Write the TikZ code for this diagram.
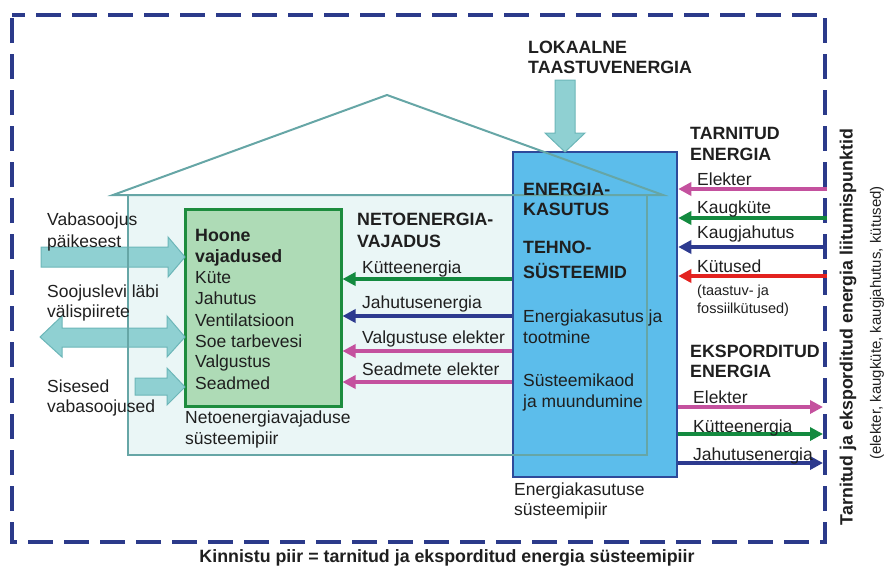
\documentclass[tikz,border=0pt]{standalone}
\usepackage{fontspec}
\setmainfont{Liberation Sans}
\usetikzlibrary{arrows.meta}

\definecolor{framecol}{HTML}{2B3A8A}
\definecolor{housefill}{HTML}{EAF6F6}
\definecolor{houseline}{HTML}{66A6A6}
\definecolor{greenfill}{HTML}{AEDBB6}
\definecolor{greenline}{HTML}{1D8C3E}
\definecolor{bluefill}{HTML}{5CBDEB}
\definecolor{blueline}{HTML}{2E4A9A}
\definecolor{blockfill}{HTML}{8FD0D2}
\definecolor{blockline}{HTML}{6CB6B8}
\definecolor{flowmag}{HTML}{C4519E}
\definecolor{flowgreen}{HTML}{138A3F}
\definecolor{flownavy}{HTML}{2D3A8F}
\definecolor{flowred}{HTML}{E3221F}
\definecolor{txt}{HTML}{1F1F1F}

\tikzset{
  lbl/.style={font=\fontsize{17.5}{20}\selectfont, text=txt, inner sep=0pt, anchor=base west},
  hd/.style={font=\fontsize{17.8}{20}\selectfont\bfseries, text=txt, inner sep=0pt, anchor=base west},
  sm/.style={font=\fontsize{14.5}{18}\selectfont, text=txt, inner sep=0pt, anchor=base west},
  flow/.style={line width=4.2pt, -{Triangle[length=13pt,width=13pt]}},
  blockarrow/.style={fill=blockfill, draw=blockline, line width=1pt, line join=miter},
}

\begin{document}
\begin{tikzpicture}[x=1pt,y=-1pt]
\useasboundingbox (0,0) rectangle (886,566);

% property boundary
\draw[framecol, line width=4pt, dash pattern=on 25pt off 11pt, dash phase=12pt]
  (12,15) -- (825,15) -- (825,542) -- (12,542) -- cycle;

% building body fill
\fill[housefill] (128,195) rectangle (647,455);

% energy use system box
\node[draw=blueline, fill=bluefill, line width=2.5pt, minimum width=164pt, minimum height=325pt, inner sep=0pt]
  (eb) at (595,314.5) {};

% net energy need box
\node[draw=greenline, fill=greenfill, line width=3pt, minimum width=156pt, minimum height=197pt, inner sep=0pt]
  (gb) at (263,307.5) {};

% block arrows on the left
\draw[blockarrow] (41,247) -- (168,247) -- (168,237) -- (185,257) -- (168,277) -- (168,267) -- (41,267) -- cycle;
\draw[blockarrow] (40,337) -- (62,316) -- (62,328) -- (167,328) -- (167,316) -- (185,337)
  -- (167,357) -- (167,347) -- (62,347) -- (62,357) -- cycle;
\draw[blockarrow] (135,378) -- (167,378) -- (167,368) -- (185,387) -- (167,405) -- (167,395) -- (135,395) -- cycle;

% local renewable energy arrow
\draw[blockarrow] (555,80) -- (575,80) -- (575,133) -- (585,133) -- (565,152) -- (545,133) -- (555,133) -- cycle;

% building outline
\draw[houseline, line width=2pt, line join=miter] (113,195) -- (387,95) -- (663,195) -- cycle;
\draw[houseline, line width=2pt] (128,195) -- (128,455) -- (647,455) -- (647,195);

% flows from the energy use box to the building needs
\coordinate (n1) at (eb.west |- 0,279);
\coordinate (n2) at (eb.west |- 0,316);
\coordinate (n3) at (eb.west |- 0,351);
\coordinate (n4) at (eb.west |- 0,382);
\draw[flow, flowgreen] (n1) -- (n1 -| gb.east);
\draw[flow, flownavy] (n2) -- (n2 -| gb.east);
\draw[flow, flowmag] (n3) -- (n3 -| gb.east);
\draw[flow, flowmag] (n4) -- (n4 -| gb.east);

% delivered energy
\coordinate (d1) at (827,189);
\coordinate (d2) at (827,218);
\coordinate (d3) at (827,247);
\coordinate (d4) at (827,276);
\draw[flow, flowmag] (d1) -- (d1 -| eb.east);
\draw[flow, flowgreen] (d2) -- (d2 -| eb.east);
\draw[flow, flownavy] (d3) -- (d3 -| eb.east);
\draw[flow, flowred] (d4) -- (d4 -| eb.east);

% exported energy
\coordinate (e1) at (823,407);
\coordinate (e2) at (823,434);
\coordinate (e3) at (823,463);
\draw[flow, flowmag] (e1 -| eb.east) -- (e1);
\draw[flow, flowgreen] (e2 -| eb.east) -- (e2);
\draw[flow, flownavy] (e3 -| eb.east) -- (e3);

% left side texts
\node[lbl] (l1) at (47,225) {Vabasoojus};
\node[lbl] (l2) at (47,247) {päikesest};
\node[lbl] (l3) at (47,297) {Soojuslevi läbi};
\node[lbl] (l4) at (47,317) {välispiirete};
\node[lbl] (l5) at (47,392) {Sisesed};
\node[lbl] (l6) at (47,412) {vabasoojused};

% needs box texts
\node[hd] (g1) at (195,241) {Hoone};
\node[hd] (g2) at (195,262) {vajadused};
\node[lbl] (g3) at (195,283) {Küte};
\node[lbl] (g4) at (195,304) {Jahutus};
\node[lbl] (g5) at (195,326) {Ventilatsioon};
\node[lbl] (g6) at (195,347) {Soe tarbevesi};
\node[lbl] (g7) at (195,367) {Valgustus};
\node[lbl] (g8) at (195,389) {Seadmed};
\node[lbl] (g9) at (185,423) {Netoenergiavajaduse};
\node[lbl] (g10) at (185,444) {süsteemipiir};

% net energy need labels
\node[hd] (ne1) at (357,225) {NETOENERGIA-};
\node[hd] (ne2) at (357,247) {VAJADUS};
\node[lbl] (ne3) at (362,273) {Kütteenergia};
\node[lbl] (ne4) at (362,308) {Jahutusenergia};
\node[lbl] (ne5) at (362,343) {Valgustuse elekter};
\node[lbl] (ne6) at (362,375) {Seadmete elekter};

% energy use box texts
\node[hd] (b1) at (523,195) {ENERGIA-};
\node[hd] (b2) at (523,215) {KASUTUS};
\node[hd] (b3) at (523,253) {TEHNO-};
\node[hd] (b4) at (523,278) {SÜSTEEMID};
\node[lbl] (b5) at (523,322) {Energiakasutus ja};
\node[lbl] (b6) at (523,343) {tootmine};
\node[lbl] (b7) at (523,386) {Süsteemikaod};
\node[lbl] (b8) at (523,407) {ja muundumine};
\node[lbl] (b9) at (514,495) {Energiakasutuse};
\node[lbl] (b10) at (514,515) {süsteemipiir};

% local renewable energy
\node[hd] (r1) at (528,53) {LOKAALNE};
\node[hd] (r2) at (528,73) {TAASTUVENERGIA};

% delivered energy labels
\node[hd] (s1) at (690,139) {TARNITUD};
\node[hd] (s2) at (690,160) {ENERGIA};
\node[lbl] (s3) at (697,185) {Elekter};
\node[lbl] (s4) at (697,213) {Kaugküte};
\node[lbl] (s5) at (697,238) {Kaugjahutus};
\node[lbl] (s6) at (697,272) {Kütused};
\node[sm] (s7) at (697,295) {(taastuv- ja};
\node[sm] (s8) at (697,313) {fossiilkütused)};

% exported energy labels
\node[hd] (x1) at (690,357) {EKSPORDITUD};
\node[hd] (x2) at (690,377) {ENERGIA};
\node[lbl] (x3) at (693,403) {Elekter};
\node[lbl] (x4) at (693,432) {Kütteenergia};
\node[lbl] (x5) at (693,460) {Jahutusenergia};

% connection point captions
\node[font=\fontsize{17.8}{20}\selectfont\bfseries, text=txt, inner sep=0pt, rotate=90] (cp1) at (848,327)
  {Tarnitud ja eksporditud energia liitumispunktid};
\node[font=\fontsize{15}{18}\selectfont, text=txt, inner sep=0pt, rotate=90] (cp2) at (877,323)
  {(elekter, kaugküte, kaugjahutus, kütused)};

% boundary caption
\node[hd, anchor=base] (cap) at (447,562) {Kinnistu piir = tarnitud ja eksporditud energia süsteemipiir};
\end{tikzpicture}
\end{document}
